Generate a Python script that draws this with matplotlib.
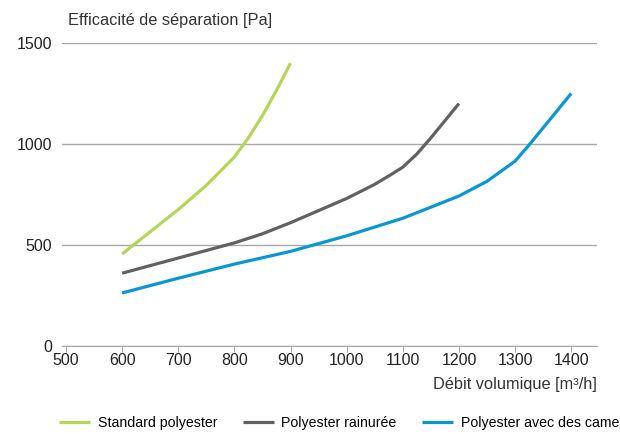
import matplotlib
matplotlib.use("Agg")
import matplotlib.pyplot as plt

# values
x_std = [600, 650, 700, 750, 800, 825, 850, 875, 900]
y_std = [455, 565, 675, 795, 935, 1030, 1140, 1265, 1400]

x_rain = [600, 700, 800, 850, 900, 1000, 1050, 1080, 1100, 1125, 1150, 1175, 1200]
y_rain = [360, 435, 510, 555, 610, 730, 800, 850, 885, 950, 1030, 1115, 1200]

x_cames = [600, 700, 800, 900, 1000, 1100, 1200, 1250, 1280, 1300, 1325, 1350, 1375, 1400]
y_cames = [262, 335, 405, 468, 545, 632, 742, 815, 875, 915, 995, 1080, 1165, 1250]

labels = ["Standard polyester", "Polyester rainurée", "Polyester avec des cames"]
colors = ["#b5d45a", "#616161", "#0a96d2"]

xticks = [500, 600, 700, 800, 900, 1000, 1100, 1200, 1300, 1400]
yticks = [0, 500, 1000, 1500]

plt.rcParams['font.family'] = ['Liberation Sans', 'DejaVu Sans']

fig = plt.figure(figsize=(6.2, 4.34), dpi=100)
ax = fig.add_axes([0.1, 0.203, 0.863, 0.698])

series = [(x_std, y_std), (x_rain, y_rain), (x_cames, y_cames)]
for (xs, ys), lab, c in zip(series, labels, colors):
    ax.plot(xs, ys, color=c, lw=2.3, label=lab, solid_capstyle='butt')

ax.set_xlim(493, 1446)
ax.set_ylim(0, 1500)
ax.set_xticks(xticks)
ax.set_yticks(yticks)
ax.grid(axis='y', color='#a8a8a8', lw=1)
ax.set_axisbelow(True)
for s in ['top', 'right', 'left']:
    ax.spines[s].set_visible(False)
ax.spines['bottom'].set_color('#a8a8a8')
ax.tick_params(axis='x', length=4, color='#a8a8a8', labelsize=11.5, pad=1, labelcolor='#222222')
ax.tick_params(axis='y', length=0, labelsize=11.5, pad=7, labelcolor='#222222')

fig.text(0.11, 0.953, "Efficacité de séparation [Pa]", fontsize=11.8, color='#333333', va='center')
fig.text(0.963, 0.113, "Débit volumique [m³/h]", fontsize=11.8, color='#333333', ha='right', va='center')

fig.legend(loc='center left', bbox_to_anchor=(0.083, 0.025), ncol=3, frameon=False,
           handlelength=2.2, columnspacing=1.8, handletextpad=0.55, borderpad=0,
           prop={'size': 10.2})

fig.savefig("out.png", dpi=100)
